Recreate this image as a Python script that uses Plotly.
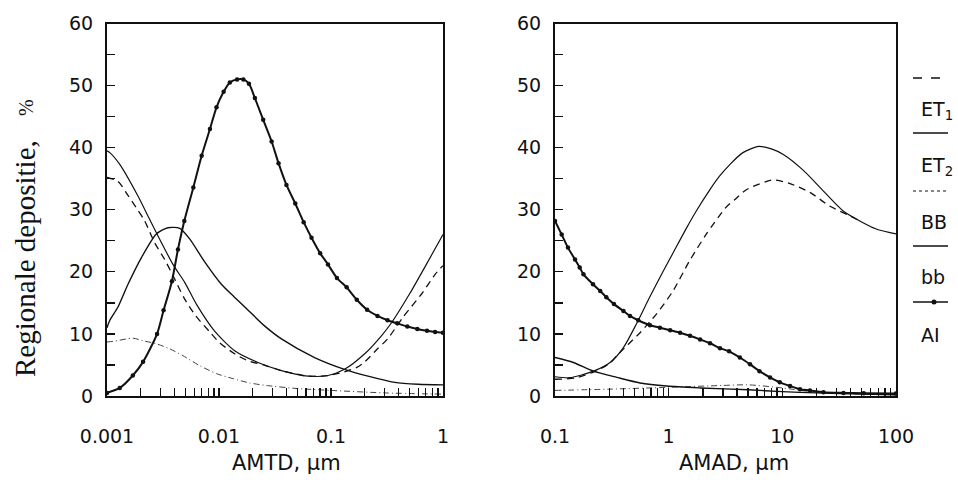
import plotly.graph_objects as go

# ---------------- data: left panel (AMTD, um) ----------------
ai_l_x = [0.001, 0.0013, 0.0017, 0.0021, 0.0028, 0.0032, 0.0038, 0.0043, 0.0049, 0.0059, 0.0070,
          0.0083, 0.0095, 0.0110, 0.0125, 0.0145, 0.0165, 0.0185, 0.0209, 0.0248, 0.0295, 0.034,
          0.040, 0.048, 0.057, 0.067, 0.080, 0.094, 0.113, 0.138, 0.17, 0.21, 0.26, 0.32, 0.39,
          0.48, 0.59, 0.72, 0.85, 1.0]
ai_l_y = [0.5, 1.3, 3.3, 5.5, 10.0, 13.8, 18.5, 23.6, 28.2, 33.6, 38.7,
          43.0, 46.5, 49.0, 50.5, 51.0, 51.0, 50.3, 48.0, 44.5, 41.0, 37.5,
          34.0, 31.0, 28.0, 25.5, 23.0, 21.2, 19.0, 17.5, 15.5, 13.9, 12.9, 12.2, 11.7,
          11.2, 10.8, 10.5, 10.3, 10.2]

et2_l_x = [0.001, 0.00106, 0.0013, 0.00189, 0.00232, 0.00276, 0.00388, 0.00494, 0.00628, 0.0091,
           0.0138, 0.0223, 0.036, 0.0624, 0.094, 0.132, 0.2, 0.282, 0.347, 0.505, 0.71, 1.0]
et2_l_y = [39.5, 39.2, 37.3, 32.2, 29.0, 26.3, 21.2, 18.3, 14.8, 10.5,
           7.3, 5.4, 4.1, 3.2, 3.3, 4.3, 6.8, 9.7, 11.8, 16.5, 21.2, 26.0]

et1_l_x = [0.001, 0.00125, 0.00154, 0.00183, 0.00217, 0.00266, 0.00327, 0.00388, 0.00494, 0.0062,
           0.0082, 0.0101, 0.0138, 0.018, 0.025, 0.036, 0.0624, 0.094, 0.132, 0.17, 0.2, 0.26,
           0.32, 0.44, 0.66, 0.85, 1.0]
et1_l_y = [35.2, 34.6, 32.3, 30.3, 28.2, 24.7, 22.0, 19.4, 15.6, 12.9,
           10.4, 8.6, 6.8, 5.7, 5.0, 4.1, 3.2, 3.3, 3.9, 4.6, 5.5, 7.6,
           9.2, 12.7, 16.7, 19.6, 21.0]

bb_l_x = [0.001, 0.00106, 0.00125, 0.00154, 0.00203, 0.00276, 0.0035, 0.00446, 0.00547, 0.00745,
          0.0105, 0.0136, 0.018, 0.0255, 0.0361, 0.0714, 0.132, 0.214, 0.371, 0.6, 1.0]
bb_l_y = [11.0, 12.2, 14.3, 18.0, 22.3, 26.1, 27.1, 27.0, 25.3, 21.6,
          18.0, 16.0, 13.9, 11.3, 9.2, 6.2, 4.3, 3.2, 2.2, 1.9, 1.8]

BB_l_x = [0.001, 0.00113, 0.00171, 0.0021, 0.00276, 0.00363, 0.00476, 0.0067, 0.0095, 0.0133,
          0.0188, 0.0264, 0.05, 0.1, 0.3, 1.0]
BB_l_y = [8.7, 8.8, 9.3, 8.9, 8.4, 7.6, 6.5, 4.9, 3.6, 2.8,
          2.1, 1.7, 1.2, 0.9, 0.5, 0.3]

# ---------------- data: right panel (AMAD, um) ----------------
ai_r_x = [0.1, 0.1145, 0.13, 0.15, 0.165, 0.178, 0.216, 0.25, 0.283, 0.33, 0.4, 0.457, 0.54,
          0.685, 0.838, 1.03, 1.26, 1.54, 1.89, 2.31, 2.83, 3.4, 4.23, 5.2, 6.3, 7.8, 9.5,
          11.7, 14.3, 17.5, 23, 34.5, 52, 100]
ai_r_y = [28.2, 26.0, 23.9, 22.0, 20.7, 19.6, 18.0, 16.9, 15.9, 14.8, 13.7, 12.9, 12.2,
          11.4, 11.0, 10.6, 10.2, 9.7, 9.1, 8.5, 7.7, 7.2, 6.2, 5.1, 4.0, 3.0, 2.2,
          1.6, 1.1, 0.9, 0.6, 0.5, 0.45, 0.4]

et2_r_x = [0.1, 0.135, 0.218, 0.305, 0.4, 0.52, 0.68, 0.89, 1.09, 1.43, 1.75, 2.3, 2.8, 3.5,
           4.5, 6.2, 8.0, 10.2, 15.4, 23, 34.3, 48, 67, 100]
et2_r_y = [3.1, 2.95, 4.0, 5.4, 7.8, 11.6, 15.9, 20.0, 23.0, 27.0, 29.8, 33.2, 35.4, 37.4,
           39.2, 40.2, 39.8, 38.9, 36.3, 33.0, 29.8, 28.2, 26.9, 26.1]

et1_r_x = [0.1, 0.15, 0.22, 0.305, 0.35, 0.44, 0.56, 0.78, 1.09, 1.53, 2.15, 3.2, 3.85, 4.9,
           8.3, 11.7, 17.5, 26, 39.6, 48]
et1_r_y = [2.7, 2.9, 3.9, 5.3, 6.5, 8.3, 10.2, 13.2, 16.9, 21.8, 26.1, 30.4, 31.7, 33.3,
           34.8, 34.2, 32.8, 30.6, 29.0, 28.2]

bb_r_x = [0.1, 0.145, 0.218, 0.35, 0.56, 0.96, 1.9, 5, 10, 20, 50, 100]
bb_r_y = [6.2, 5.4, 4.0, 3.0, 2.1, 1.6, 1.3, 1.0, 0.7, 0.5, 0.3, 0.2]

BB_r_x = [0.1, 0.3, 1, 3, 5, 10, 20, 50, 100]
BB_r_y = [0.9, 1.1, 1.4, 1.7, 1.8, 1.3, 0.6, 0.3, 0.2]

# ---------------- ticks / labels ----------------
left_xticks = [0.001, 0.01, 0.1, 1]
left_xtext = ["0.001", "0.01", "0.1", "1"]
right_xticks = [0.1, 1, 10, 100]
right_xtext = ["0.1", "1", "10", "100"]
y_ticks = [0, 10, 20, 30, 40, 50, 60]
legend_labels = ["ET<sub>1</sub>", "ET<sub>2</sub>", "BB", "bb", "AI"]

INK = "#111111"
W, H = 958, 483


def minor_vals(e0, e1):
    return [m * 10 ** e for e in range(e0, e1) for m in range(2, 10)]


fig = go.Figure()


def add_set(xa, ya, sets):
    for (xs, ys, style) in sets:
        fig.add_trace(go.Scatter(x=xs, y=ys, xaxis=xa, yaxis=ya, showlegend=False,
                                 hoverinfo="skip", **style))


st_BB = dict(mode="lines", line=dict(color="#444444", width=1, dash="6px,3px,1px,3px", shape="spline", smoothing=0.7))
st_bb = dict(mode="lines", line=dict(color=INK, width=1.4, shape="spline", smoothing=0.7))
st_et2 = dict(mode="lines", line=dict(color=INK, width=1.2, shape="spline", smoothing=0.7))
st_et1 = dict(mode="lines", line=dict(color=INK, width=1.3, dash="7px,5px", shape="spline", smoothing=0.7))
st_ai = dict(mode="lines+markers", line=dict(color=INK, width=2, shape="spline", smoothing=0.7),
             marker=dict(color=INK, size=4.5))

add_set("x", "y", [(BB_l_x, BB_l_y, st_BB), (bb_l_x, bb_l_y, st_bb), (et2_l_x, et2_l_y, st_et2),
                   (et1_l_x, et1_l_y, st_et1), (ai_l_x, ai_l_y, st_ai)])
add_set("x2", "y2", [(BB_r_x, BB_r_y, st_BB), (bb_r_x, bb_r_y, st_bb), (et2_r_x, et2_r_y, st_et2),
                     (et1_r_x, et1_r_y, st_et1), (ai_r_x, ai_r_y, st_ai)])

tickfont = dict(family="DejaVu Sans", size=19, color=INK)
ydom = [1 - 396 / H, 1 - 23.5 / H]

common_x = dict(type="log", showline=True, linecolor=INK, linewidth=2, mirror=True,
                ticks="inside", ticklen=8, tickwidth=1.3, tickcolor=INK, showgrid=False,
                zeroline=False, tickfont=tickfont, ticklabelstandoff=22, automargin=False)
common_y = dict(range=[0, 60], showline=True, linecolor=INK, linewidth=2, mirror=True,
                ticks="inside", ticklen=8, tickwidth=1.3, tickcolor=INK, showgrid=False,
                zeroline=False, tickfont=tickfont, tickmode="array", tickvals=y_ticks,
                ticktext=[str(v) for v in y_ticks], ticklabelstandoff=8, automargin=False,
                minor=dict(tickmode="array", tickvals=[5, 15, 25, 35, 45, 55], ticks="inside",
                           ticklen=8, tickwidth=1.3, tickcolor=INK, showgrid=False))

fig.update_layout(
    template="none",
    width=W, height=H, paper_bgcolor="white", plot_bgcolor="white",
    margin=dict(l=0, r=0, t=0, b=0, pad=0, autoexpand=False), showlegend=False,
    xaxis=dict(common_x, domain=[107 / W, 443 / W], range=[-3, 0], tickmode="array",
               tickvals=left_xticks, ticktext=left_xtext,
               minor=dict(tickmode="array", tickvals=minor_vals(-3, 0), ticks="inside",
                          ticklen=8, tickwidth=1.3, tickcolor=INK, showgrid=False)),
    yaxis=dict(common_y, domain=ydom, anchor="x"),
    xaxis2=dict(common_x, domain=[555 / W, 896 / W], range=[-1, 2], tickmode="array",
                tickvals=right_xticks, ticktext=right_xtext, anchor="y2",
                minor=dict(tickmode="array", tickvals=minor_vals(-1, 2), ticks="inside",
                           ticklen=8, tickwidth=1.3, tickcolor=INK, showgrid=False)),
    yaxis2=dict(common_y, domain=ydom, anchor="x2"),
)


def note(px, py, text, size, family="DejaVu Sans", angle=0, xanchor="center"):
    fig.add_annotation(x=px / W, y=1 - py / H, xref="paper", yref="paper", text=text,
                       textangle=angle, showarrow=False, xanchor=xanchor, yanchor="middle",
                       font=dict(family=family, size=size, color=INK))


# axis titles
note(286, 463, "AMTD, μm", 21)
note(734, 463, "AMAD, μm", 21)
note(25, 259, "Regionale depositie,", 29, family="Liberation Serif", angle=-90)
note(26, 108, "%", 20, family="Liberation Serif", angle=-90)

# legend (line sample above each label)
sample_y = [78, 133, 191, 246, 302]
label_y = [110, 167, 222, 277, 335]
sample_dash = ["dash", "solid", "dot", "solid", "solid"]
sample_w = [1.3, 1.3, 1.0, 1.3, 1.6]
for i in range(5):
    fig.add_shape(type="line", xref="paper", yref="paper", x0=913 / W, x1=948 / W,
                  y0=1 - sample_y[i] / H, y1=1 - sample_y[i] / H,
                  line=dict(color=INK, width=sample_w[i], dash=sample_dash[i]))
    note(919, label_y[i], legend_labels[i], 19, xanchor="left")
fig.add_shape(type="circle", xref="paper", yref="paper", x0=931.5 / W, x1=936.5 / W,
              y0=1 - 304.5 / H, y1=1 - 299.5 / H, fillcolor=INK, line=dict(color=INK, width=0))

fig.write_html("out.html", config={"displayModeBar": False, "staticPlot": True},
               post_script="document.body.style.margin='0px';")
